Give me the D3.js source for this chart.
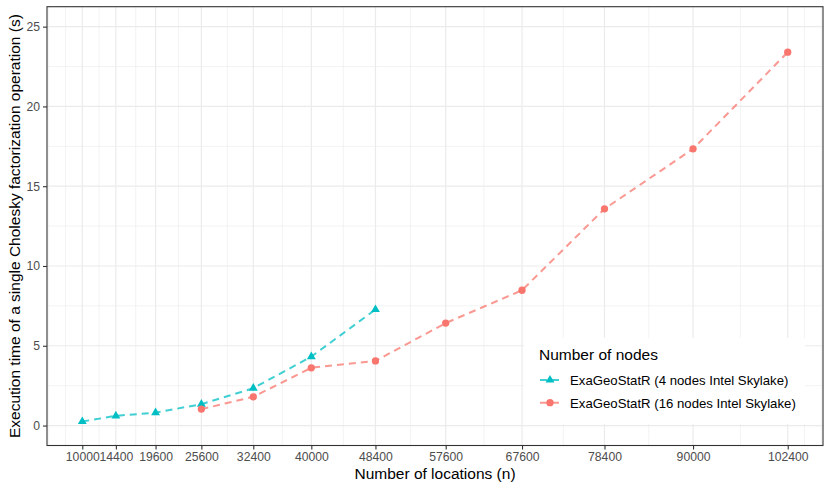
<!DOCTYPE html>
<html>
<head>
<meta charset="utf-8">
<script src="https://cdn.jsdelivr.net/npm/d3@7.9.0/dist/d3.min.js"></script>
<style>
  body { margin: 0; background: #fff; }
  svg { display: block; font-family: "Liberation Sans", Arial, sans-serif; }
</style>
</head>
<body>
<div id="chart"></div>
<script>
// x values (number of locations) and the breaks shown on the axis
const locations = [10000, 14400, 19600, 25600, 32400, 40000, 48400, 57600, 67600, 78400, 90000, 102400];
const yTicks = [0, 5, 10, 15, 20, 25];

// 4 nodes run stops at 48400
const locations4 = [10000, 14400, 19600, 25600, 32400, 40000, 48400];
const time4 = [0.25, 0.61, 0.81, 1.34, 2.34, 4.32, 7.27];

// 16 nodes run starts at 25600
const locations16 = [25600, 32400, 40000, 48400, 57600, 67600, 78400, 90000, 102400];
const time16 = [1.03, 1.80, 3.62, 4.05, 6.42, 8.48, 13.58, 17.34, 23.40];

const seriesNames = ['ExaGeoStatR (4 nodes Intel Skylake)', 'ExaGeoStatR (16 nodes Intel Skylake)'];
const seriesColors = ['#00BFC4', '#F8766D'];

const width = 830;
const height = 491;
const panel = { left: 47, right: 823, top: 6.7, bottom: 445.5 };

const svg = d3.select('#chart')
  .append('svg')
  .attr('width', width)
  .attr('height', height);

svg.append('rect').attr('width', width).attr('height', height).attr('fill', '#fff');

// ggplot style: 5% expansion on both axes
const xExt = d3.extent(locations);
const xPad = (xExt[1] - xExt[0]) * 0.05;
const xScale = d3.scaleLinear()
  .domain([xExt[0] - xPad, xExt[1] + xPad])
  .range([panel.left, panel.right]);

const yPad = 25 * 0.05;
const yScale = d3.scaleLinear()
  .domain([0 - yPad, 25 + yPad])
  .range([panel.bottom, panel.top]);

// minor breaks: midpoints between breaks, extended one step on each side
function minorBreaks(breaks, domain) {
  const step = breaks[1] - breaks[0];
  const b = [breaks[0] - step, ...breaks, breaks[breaks.length - 1] + step];
  const out = [];
  for (let i = 0; i < b.length - 1; i++) {
    out.push(b[i], (b[i] + b[i + 1]) / 2);
  }
  out.push(b[b.length - 1]);
  return out.filter((v) => v >= domain[0] && v <= domain[1] && !breaks.includes(v));
}

const grid = svg.append('g').attr('class', 'grid');

grid.selectAll('.xminor')
  .data(minorBreaks(locations, xScale.domain()))
  .join('line')
  .attr('x1', (d) => xScale(d)).attr('x2', (d) => xScale(d))
  .attr('y1', panel.top).attr('y2', panel.bottom)
  .attr('stroke', '#EBEBEB').attr('stroke-width', 0.6);

grid.selectAll('.yminor')
  .data(minorBreaks(yTicks, yScale.domain()))
  .join('line')
  .attr('x1', panel.left).attr('x2', panel.right)
  .attr('y1', (d) => yScale(d)).attr('y2', (d) => yScale(d))
  .attr('stroke', '#EBEBEB').attr('stroke-width', 0.6);

grid.append('g')
  .selectAll('line')
  .data(locations)
  .join('line')
  .attr('x1', (d) => xScale(d)).attr('x2', (d) => xScale(d))
  .attr('y1', panel.top).attr('y2', panel.bottom)
  .attr('stroke', '#EBEBEB').attr('stroke-width', 1.2);

grid.append('g')
  .selectAll('line')
  .data(yTicks)
  .join('line')
  .attr('x1', panel.left).attr('x2', panel.right)
  .attr('y1', (d) => yScale(d)).attr('y2', (d) => yScale(d))
  .attr('stroke', '#EBEBEB').attr('stroke-width', 1.2);

// series
const series = [
  { x: locations4, y: time4, color: seriesColors[0], shape: d3.symbolTriangle },
  { x: locations16, y: time16, color: seriesColors[1], shape: d3.symbolCircle },
];

const line = d3.line()
  .x((d) => xScale(d[0]))
  .y((d) => yScale(d[1]));

series.forEach((s) => {
  const pts = s.x.map((x, i) => [x, s.y[i]]);
  svg.append('path')
    .datum(pts)
    .attr('d', line)
    .attr('fill', 'none')
    .attr('stroke', s.color)
    .attr('stroke-opacity', 0.75)
    .attr('stroke-width', 2)
    .attr('stroke-dasharray', '7,5');
  svg.append('g')
    .selectAll('path')
    .data(pts)
    .join('path')
    .attr('transform', (d) => `translate(${xScale(d[0])},${yScale(d[1])})`)
    .attr('d', d3.symbol().type(s.shape).size(s.shape === d3.symbolCircle ? 42 : 34))
    .attr('fill', s.color);
});

// panel border
svg.append('rect')
  .attr('x', panel.left).attr('y', panel.top)
  .attr('width', panel.right - panel.left)
  .attr('height', panel.bottom - panel.top)
  .attr('fill', 'none')
  .attr('stroke', '#333333')
  .attr('stroke-width', 1.1);

// axes
const xAxis = svg.append('g')
  .attr('transform', `translate(0, ${panel.bottom})`)
  .call(d3.axisBottom(xScale).tickValues(locations).tickFormat(d3.format('d')).tickSize(4).tickPadding(3));

const yAxis = svg.append('g')
  .attr('transform', `translate(${panel.left}, 0)`)
  .call(d3.axisLeft(yScale).tickValues(yTicks).tickSize(4).tickPadding(3));

[xAxis, yAxis].forEach((ax) => {
  ax.select('.domain').remove();
  ax.selectAll('.tick line').attr('stroke', '#333333').attr('stroke-width', 1.1);
  ax.selectAll('.tick text')
    .attr('fill', '#4D4D4D')
    .style('font-size', '12.2px')
    .style('font-family', '"Liberation Sans", Arial, sans-serif');
});

// axis titles
svg.append('text')
  .attr('x', (panel.left + panel.right) / 2)
  .attr('y', 479)
  .attr('text-anchor', 'middle')
  .style('font-size', '15.5px')
  .attr('fill', '#000')
  .text('Number of locations (n)');

svg.append('text')
  .attr('transform', `translate(20, ${(panel.top + panel.bottom) / 2}) rotate(-90)`)
  .attr('text-anchor', 'middle')
  .style('font-size', '15.5px')
  .attr('fill', '#000')
  .text('Execution time of a single Cholesky factorization operation (s)');

// legend
const legend = svg.append('g').attr('class', 'legend');
legend.append('rect')
  .attr('x', 524).attr('y', 338)
  .attr('width', 281).attr('height', 86)
  .attr('fill', '#fff');

legend.append('text')
  .attr('x', 539).attr('y', 359.5)
  .style('font-size', '15.5px')
  .attr('fill', '#000')
  .text('Number of nodes');

series.forEach((s, i) => {
  const cy = 380 + i * 22.7;
  legend.append('line')
    .attr('x1', 540).attr('x2', 560)
    .attr('y1', cy).attr('y2', cy)
    .attr('stroke', s.color)
    .attr('stroke-opacity', 0.75)
    .attr('stroke-width', 2)
    .attr('stroke-dasharray', '7,5');
  legend.append('path')
    .attr('transform', `translate(550,${cy})`)
    .attr('d', d3.symbol().type(s.shape).size(s.shape === d3.symbolCircle ? 42 : 34))
    .attr('fill', s.color);
  legend.append('text')
    .attr('x', 570).attr('y', cy + 4.8)
    .style('font-size', '13.2px')
    .attr('fill', '#000')
    .text(seriesNames[i]);
});
</script>
</body>
</html>
